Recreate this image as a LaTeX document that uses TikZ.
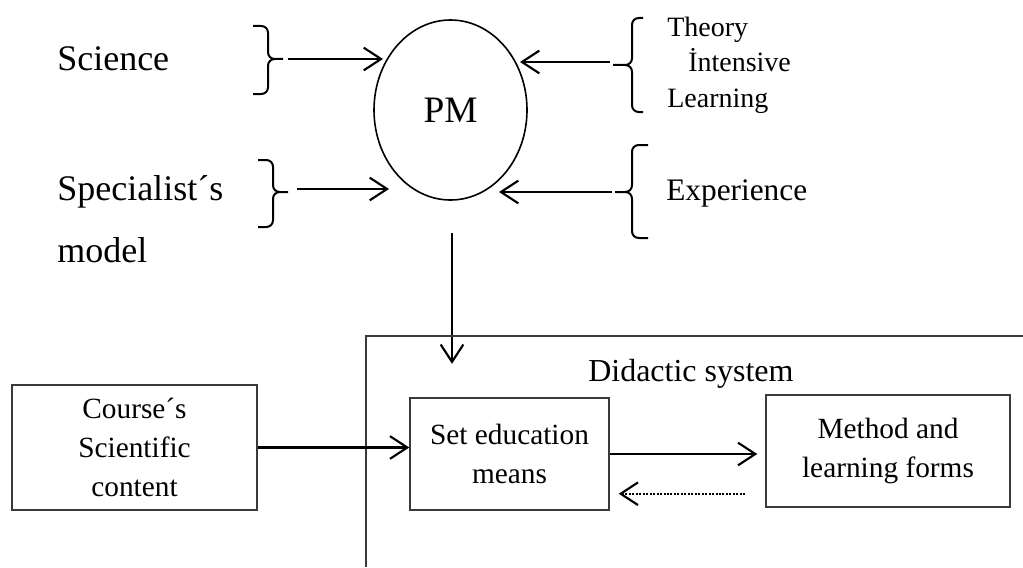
\documentclass[tikz,border=0pt]{standalone}
\usepackage{fontspec}
\setmainfont{Liberation Serif}
\usetikzlibrary{arrows.meta,calc,shapes.geometric,positioning}
\definecolor{dsInk}{HTML}{000000}
\definecolor{dsEdge}{HTML}{3A3A3A}
\tikzset{
  ds flow/.style={
    draw=dsInk,
    line width=1.6pt,
    -{Straight Barb[length=13pt,width=17pt,line width=1.6pt]}
  },
  ds feedback/.style={
    ds flow,
    line width=1.8pt,
    dash pattern=on 1.5pt off 1.1pt
  },
  ds brace/.style={draw=dsInk, line width=1.5pt, rounded corners=5pt},
  ds core/.style={ellipse, draw=dsInk, line width=1.2pt, inner sep=0pt,
    minimum width=114.75pt, minimum height=135pt,
    font=\fontsize{28pt}{34pt}\selectfont},
  ds box/.style={rectangle, draw=dsEdge, line width=1.1pt, align=center,
    inner sep=0pt, font=\fontsize{22pt}{29pt}\selectfont},
  ds frame/.style={draw=dsEdge, line width=1.1pt},
  ds big label/.style={anchor=base west, inner sep=0pt, align=left,
    font=\fontsize{27pt}{46pt}\selectfont},
  ds label/.style={anchor=base west, inner sep=0pt, align=left,
    font=\fontsize{21pt}{26.6pt}\selectfont}
}
\begin{document}
\begin{tikzpicture}[x=0.75pt,y=-0.75pt]
  \useasboundingbox[fill=white] (0,0) rectangle (1023,567);

  % model of the specialist
  \node[ds core] (pm) at (450.5,110) {PM};
  \node[ds big label] (science) at (57,70) {Science};
  \node[ds big label] (specialist) at (57,262) {Specialist´s\\model};
  \node[ds label] (theory) at (667,107) {Theory\\\hspace*{15.75pt}İntensive\\Learning};
  \node[ds label, font=\fontsize{23.5pt}{28pt}\selectfont] (experience) at (666,200) {Experience};

  % brackets
  \draw[ds brace] (253,26) -- (268,26) -- (268,59) -- (283,59)
                  (253,94) -- (268,94) -- (268,59) -- (283,59);
  \draw[ds brace] (258,160) -- (273,160) -- (273,192) -- (288,192)
                  (258,227) -- (273,227) -- (273,192) -- (288,192);
  \draw[ds brace] (643,18) -- (632,18) -- (632,65) -- (613,65)
                  (643,112) -- (632,112) -- (632,65) -- (613,65);
  \draw[ds brace] (648,145) -- (632,145) -- (632,192) -- (615,192)
                  (648,238) -- (632,238) -- (632,192) -- (615,192);

  \coordinate (sciOut) at (288,59);
  \coordinate (sciIn) at (383,59);
  \coordinate (specOut) at (297,189);
  \coordinate (specIn) at (389,189);
  \coordinate (theoOut) at (610,62);
  \coordinate (theoIn) at (520,62);
  \coordinate (expOut) at (612,192);
  \coordinate (expIn) at (499,192);

  \draw[ds flow] (sciOut) -- (sciIn);
  \draw[ds flow] (specOut) -- (specIn);
  \draw[ds flow] (theoOut) -- (theoIn);
  \draw[ds flow] (expOut) -- (expIn);
  \draw[ds flow] ($(pm.south)+(1.5,32)$) -- ($(pm.south)+(1.5,163)$);

  % didactic system
  \draw[ds frame] (366,567) -- (366,336) -- (1023,336);
  \node[anchor=base west, inner sep=0pt, font=\fontsize{24pt}{29pt}\selectfont]
    (didactic) at (588,381) {Didactic system};

  \node[ds box, minimum width=183.75pt, minimum height=93.75pt] (course) at (134.5,447.5)
    {Course´s\\Scientific\\content};
  \node[ds box, minimum width=149.25pt, minimum height=84pt] (means) at (509.5,454)
    {Set education\\means};
  \node[ds box, minimum width=183pt, minimum height=84pt] (method) at (888,451)
    {Method and\\learning forms};

  \draw[ds flow] (course.east) -- (course.east -| means.west);
  \draw[ds flow, shorten >=6pt] (means.east) -- (means.east -| method.west);
  \draw[ds feedback] ($(method.south west)+(-20,-14)$) -- ($(means.south east |- method.south west)+(9,-14)$);
\end{tikzpicture}
\end{document}
